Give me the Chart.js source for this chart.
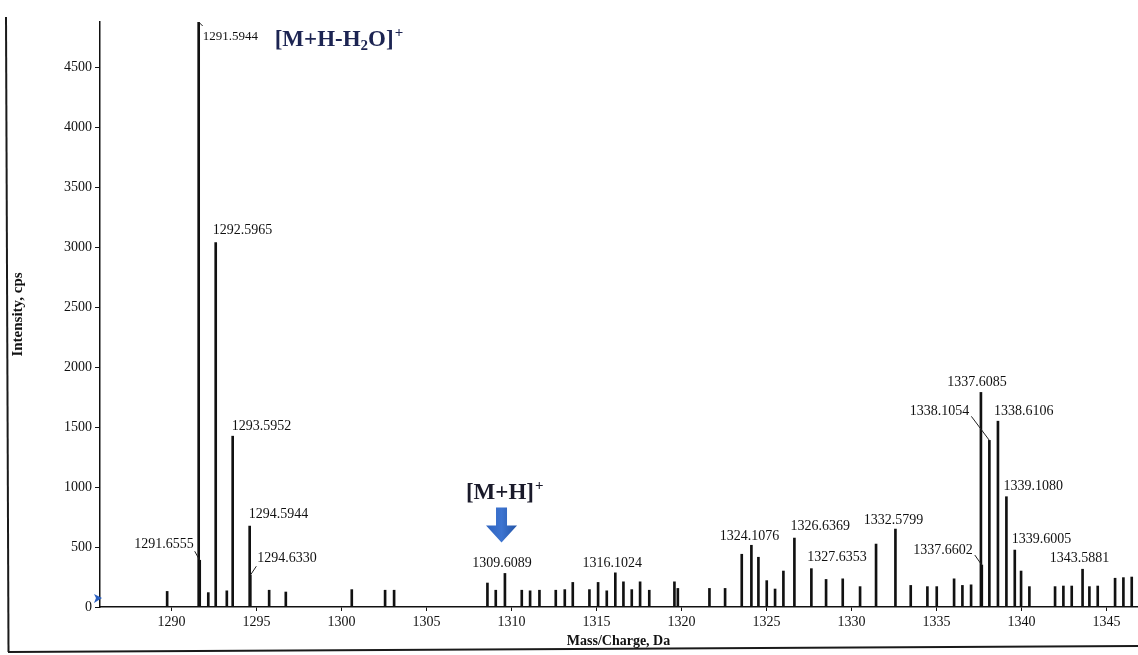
<!DOCTYPE html>
<html><head><meta charset="utf-8">
<script src="https://cdn.jsdelivr.net/npm/chart.js@4.4.0/dist/chart.umd.min.js"></script>
<style>html,body{margin:0;padding:0;background:#fff;}#wrap{width:1138px;height:655px;position:relative;}</style>
</head><body><div id="wrap"><canvas id="c" width="1138" height="655"></canvas></div>
<script>
// ---- data ----
const peakMz = [1289.74,1291.5944,1291.6555,1292.16,1292.5965,1293.25,1293.5952,1294.5944,1294.6330,1295.74,1296.72,
  1300.60,1302.56,1303.09,1308.58,1309.07,1309.6089,1310.60,1311.09,1311.64,1312.60,1313.13,1313.60,1314.58,1315.09,1315.60,
  1316.1024,1316.58,1317.07,1317.56,1318.10,1319.58,1319.78,1321.64,1322.56,1323.54,1324.1076,1324.52,1325.01,1325.50,1325.99,
  1326.6369,1327.6353,1328.50,1329.48,1330.50,1331.44,1332.5799,1333.48,1334.46,1335.01,1336.03,1336.52,1337.03,
  1337.6085,1337.6602,1338.1054,1338.6106,1339.1080,1339.6005,1339.97,1340.46,1341.97,1342.46,1342.95,1343.5881,1343.99,
  1344.48,1345.50,1345.99,1346.48];
const peakIntensity = [130,4880,390,120,3040,135,1425,675,265,140,125,
  145,140,140,200,140,280,140,135,140,140,145,205,145,205,135,
  285,210,145,210,140,210,155,155,155,440,515,415,220,150,300,
  575,320,230,235,170,525,650,180,170,170,235,180,185,
  1790,350,1390,1550,920,475,300,170,170,175,175,315,170,
  175,240,245,250];
const labeledMz = [1291.5944,1291.6555,1292.5965,1293.5952,1294.5944,1294.6330,1309.6089,1316.1024,1324.1076,
  1326.6369,1327.6353,1332.5799,1337.6085,1337.6602,1338.1054,1338.6106,1339.1080,1339.6005,1343.5881];
const xTickValues = [1290,1295,1300,1305,1310,1315,1320,1325,1330,1335,1340,1345];
const yTickValues = [0,500,1000,1500,2000,2500,3000,3500,4000,4500];
const xRange = [1285.79, 1346.79];
const yRange = [0, 4880];
const ionLabels = {dehydrated: {main:'[M+H-H', sub:'2', tail:'O]', sup:'+', peak:1291.5944},
                   protonated: {main:'[M+H]', sub:'', tail:'', sup:'+', peak:1309.6089}};

// ---- label layout (text placement relative to bar top, px) ----
const labelLayout = [
  {a:'left',dx:4,dy:15,l:[4,4],size:13},
  {a:'right',dx:-6,dy:-16,l:[-5,-9]},
  {a:'left',dx:-3,dy:-12},
  {a:'left',dx:-1,dy:-10},
  {a:'left',dx:-1,dy:-12},
  {a:'left',dx:7,dy:-17,l:[6,-9]},
  {a:'center',dx:-3,dy:-10},
  {a:'center',dx:-3,dy:-10},
  {a:'center',dx:-2,dy:-9},
  {a:'left',dx:-4,dy:-12},
  {a:'left',dx:-4,dy:-11},
  {a:'center',dx:-2,dy:-9},
  {a:'center',dx:-4,dy:-10},
  {a:'right',dx:-9,dy:-15,l:[-7,-10]},
  {a:'right',dx:-20,dy:-29,l:[-18,-24]},
  {a:'left',dx:-4,dy:-10},
  {a:'left',dx:-3,dy:-10},
  {a:'left',dx:-3,dy:-11},
  {a:'center',dx:-3,dy:-11}
];

const SERIF = '"Liberation Serif", "DejaVu Serif", serif';

function intensityOf(mz){ const i = peakMz.indexOf(mz); return i >= 0 ? peakIntensity[i] : 0; }

const annotPlugin = {
  id:'annot',
  afterDraw(chart){
    const ctx = chart.ctx, xs = chart.scales.x, ys = chart.scales.y;
    ctx.save();
    // frame lines
    ctx.strokeStyle = '#1a1a1a'; ctx.lineWidth = 2;
    ctx.beginPath(); ctx.moveTo(6,17); ctx.lineTo(8.5,652); ctx.stroke();
    ctx.beginPath(); ctx.moveTo(8,652); ctx.lineTo(1138,646); ctx.stroke();
    // peak labels
    ctx.fillStyle = '#111'; ctx.strokeStyle = '#222'; ctx.lineWidth = 1;
    ctx.textBaseline = 'middle';
    labeledMz.forEach((mz,i)=>{
      const L = labelLayout[i];
      const bx = xs.getPixelForValue(mz), by = ys.getPixelForValue(intensityOf(mz));
      if (L.l){ ctx.beginPath(); ctx.moveTo(bx,by); ctx.lineTo(bx+L.l[0], by+L.l[1]); ctx.stroke(); }
      ctx.font = (L.size||14) + 'px ' + SERIF;
      ctx.textAlign = L.a;
      ctx.fillText(mz.toFixed(4), bx+L.dx, by+L.dy);
    });
    // ion annotations
    function ion(lbl, x, y, size, color){
      ctx.fillStyle = color; ctx.textAlign = 'left'; ctx.textBaseline = 'alphabetic';
      ctx.font = 'bold '+size+'px '+SERIF;
      ctx.fillText(lbl.main, x, y); x += ctx.measureText(lbl.main).width;
      if (lbl.sub){ ctx.font = 'bold '+Math.round(size*0.65)+'px '+SERIF; ctx.fillText(lbl.sub, x, y+4); x += ctx.measureText(lbl.sub).width; }
      if (lbl.tail){ ctx.font = 'bold '+size+'px '+SERIF; ctx.fillText(lbl.tail, x, y); x += ctx.measureText(lbl.tail).width; }
      if (lbl.sup){ ctx.font = 'bold '+Math.round(size*0.65)+'px '+SERIF; ctx.fillText(lbl.sup, x+1, y-9); }
    }
    const d = ionLabels.dehydrated;
    ion(d, xs.getPixelForValue(d.peak)+76, ys.getPixelForValue(intensityOf(d.peak))+24, 23, '#1c2452');
    const p = ionLabels.protonated;
    const pbx = xs.getPixelForValue(p.peak), pby = ys.getPixelForValue(intensityOf(p.peak));
    ion(p, pbx-39, pby-74, 23, '#1a1a2a');
    // blue arrow
    const cx = pbx-3.4, top = pby-66, hs = pby-48, tip = pby-31;
    const g = ctx.createLinearGradient(cx-15,0,cx+15,0);
    g.addColorStop(0,'#2f64c0'); g.addColorStop(0.5,'#3d74d0'); g.addColorStop(1,'#2556a8');
    ctx.fillStyle = g;
    ctx.beginPath();
    ctx.moveTo(cx-5.5, top); ctx.lineTo(cx+5.5, top); ctx.lineTo(cx+5.5, hs); ctx.lineTo(cx+15.5, hs);
    ctx.lineTo(cx, tip); ctx.lineTo(cx-15.5, hs); ctx.lineTo(cx-5.5, hs); ctx.closePath(); ctx.fill();
    // small blue marker at origin
    const ox = xs.left, oy = ys.getPixelForValue(0);
    ctx.fillStyle = '#2a5fc0';
    ctx.beginPath(); ctx.moveTo(ox-6, oy-13); ctx.lineTo(ox+2, oy-9); ctx.lineTo(ox-6, oy-4); ctx.lineTo(ox-4, oy-9); ctx.closePath(); ctx.fill();
    ctx.restore();
  }
};

new Chart(document.getElementById('c'), {
  type:'bar',
  data:{ datasets:[{
    data: peakMz.map((m,i)=>({x:m, y:peakIntensity[i]})),
    backgroundColor:'#111', borderWidth:0, barThickness:2, grouped:false
  }]},
  options:{
    responsive:false, animation:false, devicePixelRatio:1,
    layout:{padding:{top:22,right:1,left:0,bottom:0}},
    plugins:{legend:{display:false}, tooltip:{enabled:false}},
    scales:{
      x:{type:'linear', min:xRange[0], max:xRange[1], offset:false,
        afterBuildTicks:(s)=>{ s.ticks = xTickValues.map(v=>({value:v})); },
        afterFit:(s)=>{ s.height = 48; },
        ticks:{font:{family:SERIF,size:14}, color:'#111', padding:3, maxRotation:0, autoSkip:false, callback:(v)=>String(v)},
        grid:{display:true, offset:false, drawOnChartArea:false, drawTicks:true, tickLength:4, color:'#111', lineWidth:1},
        border:{display:true, color:'#111', width:1.5},
        title:{display:true, text:'Mass/Charge, Da', font:{family:SERIF,size:14,weight:'bold'}, color:'#111', padding:{top:0,bottom:5}}
      },
      y:{type:'linear', min:yRange[0], max:yRange[1],
        afterBuildTicks:(s)=>{ s.ticks = yTickValues.map(v=>({value:v})); },
        afterFit:(s)=>{ s.width = 100; },
        ticks:{font:{family:SERIF,size:14}, color:'#111', padding:3, autoSkip:false, callback:(v)=>String(v)},
        grid:{display:true, drawOnChartArea:false, drawTicks:true, tickLength:5, color:'#111', lineWidth:1},
        border:{display:true, color:'#111', width:1.5},
        title:{display:true, text:'Intensity, cps', font:{family:SERIF,size:15,weight:'bold'}, color:'#111', padding:{top:9,bottom:0}}
      }
    }
  },
  plugins:[annotPlugin]
});
</script></body></html>
